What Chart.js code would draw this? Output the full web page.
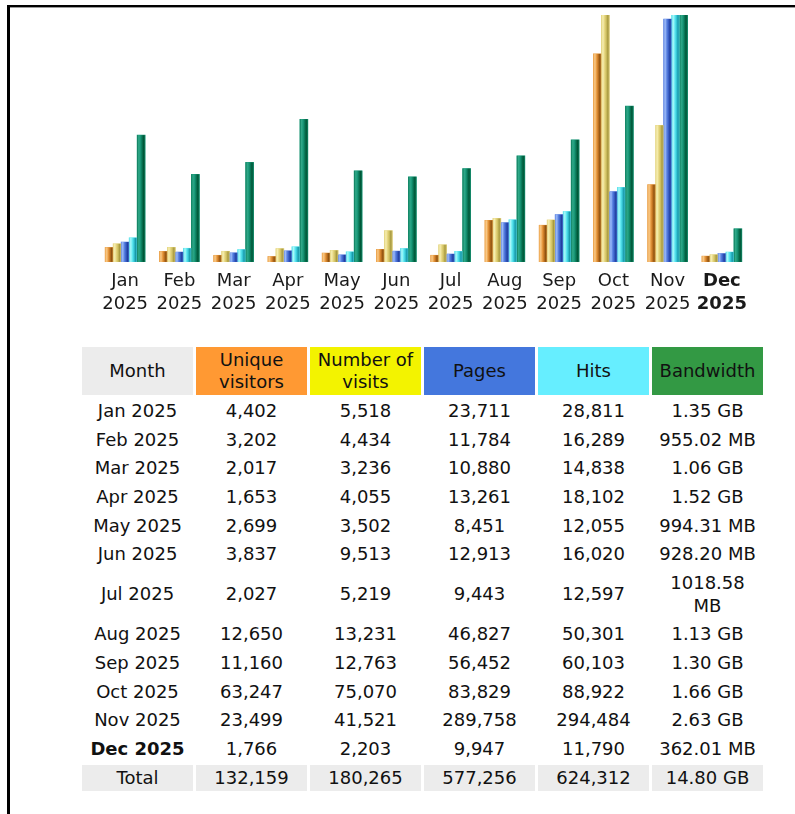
<!DOCTYPE html>
<html>
<head>
<meta charset="utf-8">
<title>Monthly history</title>
<script src="https://cdn.jsdelivr.net/npm/chart.js@4/dist/chart.umd.min.js"></script>
<style>
  html, body { margin: 0; padding: 0; background: #fff; }
  body { width: 795px; height: 814px; position: relative; overflow: hidden; font-family: "DejaVu Sans", Verdana, sans-serif; }
  .frame { position: absolute; left: 7px; top: 5px; width: 800px; height: 820px; border-left: 3px solid #000; border-top: 2px solid #000; box-shadow: inset 0 1px 0 #9a9a9a; }
  #chartBox { position: absolute; left: 0; top: 0; width: 795px; height: 330px; }
  table.stats { position: absolute; left: 79px; top: 344px; border-collapse: separate; border-spacing: 3px; font-size: 18px; color: #111; }
  table.stats td, table.stats th { width: 111px; text-align: center; padding: 1.62px 3px; line-height: 22.5px; font-weight: normal; box-sizing: border-box; }
  table.stats th { padding: 1.6px 3px; }
  .bold { font-weight: bold !important; }
  .tot td { background: #ececec; }
</style>
</head>
<body>
<div class="frame"></div>
<div id="chartBox"><canvas id="monthChart" width="795" height="330"></canvas></div>
<table class="stats" id="stats"></table>
<script>
document.addEventListener('DOMContentLoaded', function() {
    const months = ['Jan', 'Feb', 'Mar', 'Apr', 'May', 'Jun', 'Jul', 'Aug', 'Sep', 'Oct', 'Nov', 'Dec'];
    const year = '2025';
    const visitors = [4402, 3202, 2017, 1653, 2699, 3837, 2027, 12650, 11160, 63247, 23499, 1766];
    const visits = [5518, 4434, 3236, 4055, 3502, 9513, 5219, 13231, 12763, 75070, 41521, 2203];
    const pages = [23711, 11784, 10880, 13261, 8451, 12913, 9443, 46827, 56452, 83829, 289758, 9947];
    const hits = [28811, 16289, 14838, 18102, 12055, 16020, 12597, 50301, 60103, 88922, 294484, 11790];
    const bandwidth = ['1.35 GB', '955.02 MB', '1.06 GB', '1.52 GB', '994.31 MB', '928.20 MB', '1018.58 MB', '1.13 GB', '1.30 GB', '1.66 GB', '2.63 GB', '362.01 MB'];
    const bandwidthTotal = '14.80 GB';
    const currentMonth = 11;

    // bandwidth strings -> MB for the bar heights
    const bandwidthMB = bandwidth.map(s => {
        const [v, unit] = s.split(' ');
        return unit === 'GB' ? parseFloat(v) * 1024 : parseFloat(v);
    });

    const fmt = n => n.toLocaleString('en-US');
    const sum = a => a.reduce((s, v) => s + v, 0);

    // shaded "cylinder" look of the bars
    const barShade = {
        id: 'barShade',
        afterDatasetsDraw(chart) {
            const ctx = chart.ctx;
            chart.data.datasets.forEach((ds, i) => {
                const meta = chart.getDatasetMeta(i);
                meta.data.forEach(bar => {
                    const { x, y, base, width } = bar.getProps(['x', 'y', 'base', 'width'], true);
                    const left = x - width / 2;
                    const g = ctx.createLinearGradient(left, 0, left + width, 0);
                    ds.shade.forEach((c, k) => g.addColorStop(k / (ds.shade.length - 1), c));
                    ctx.fillStyle = g;
                    ctx.fillRect(left, y, width, base - y);
                });
            });
        }
    };

    const hidden = max => ({ display: false, min: 0, max: max });

    new Chart(document.getElementById('monthChart'), {
        type: 'bar',
        data: {
            labels: months.map(m => [m, year]),
            datasets: [
                { label: 'Unique visitors', data: visitors, yAxisID: 'yv', backgroundColor: '#e69a40',
                  shade: ['#f0ac58', '#f8c886', '#e99c42', '#c47422', '#8f5310', '#c88838'] },
                { label: 'Number of visits', data: visits, yAxisID: 'yv', backgroundColor: '#e4d47c',
                  shade: ['#e6d88a', '#f6eeb0', '#e6d680', '#cfc062', '#a89a40', '#cfc070'] },
                { label: 'Pages', data: pages, yAxisID: 'yh', backgroundColor: '#5a80e0',
                  shade: ['#6a90e8', '#9cbaf8', '#5c84e2', '#3a60c8', '#203f9e', '#4a70d0'] },
                { label: 'Hits', data: hits, yAxisID: 'yh', backgroundColor: '#60e8f0',
                  shade: ['#5cdce6', '#aaf8fa', '#62eaf2', '#38c8d8', '#1898a8', '#48c8d8'] },
                { label: 'Bandwidth', data: bandwidthMB, yAxisID: 'yk', backgroundColor: '#189878',
                  shade: ['#0c7a5a', '#30a888', '#1a9a7a', '#0a7858', '#005838', '#0e7c5c'] }
            ]
        },
        options: {
            responsive: false,
            animation: false,
            events: [],
            layout: { padding: { left: 98, right: 46, top: 15, bottom: 6 } },
            datasets: { bar: { barThickness: 8, borderWidth: 0 } },
            plugins: { legend: { display: false }, tooltip: { enabled: false } },
            scales: {
                x: {
                    grid: { display: false, drawTicks: false },
                    border: { display: false },
                    ticks: {
                        padding: 8,
                        color: '#1a1a1a',
                        autoSkip: false,
                        maxRotation: 0,
                        font: c => ({ family: 'DejaVu Sans', size: 18, lineHeight: 1.28,
                                      weight: c.index === currentMonth ? 'bold' : 'normal' })
                    }
                },
                yv: hidden(Math.max(...visitors, ...visits)),
                yh: hidden(Math.max(...pages, ...hits)),
                yk: hidden(Math.max(...bandwidthMB))
            }
        },
        plugins: [barShade]
    });

    // table under the chart
    const table = document.getElementById('stats');
    let html = `
        <tr>
            <th style="background:#ececec;">Month</th>
            <th style="background:#ff9933;">Unique visitors</th>
            <th style="background:#f3f300;">Number of visits</th>
            <th style="background:#4477dd;">Pages</th>
            <th style="background:#66eeff;">Hits</th>
            <th style="background:#339944;">Bandwidth</th>
        </tr>`;
    html += months.map((m, i) => `
        <tr>
            <td class="${i === currentMonth ? 'bold' : ''}">${m} ${year}</td>
            <td>${fmt(visitors[i])}</td>
            <td>${fmt(visits[i])}</td>
            <td>${fmt(pages[i])}</td>
            <td>${fmt(hits[i])}</td>
            <td>${bandwidth[i]}</td>
        </tr>`).join('');
    html += `
        <tr class="tot">
            <td>Total</td>
            <td>${fmt(sum(visitors))}</td>
            <td>${fmt(sum(visits))}</td>
            <td>${fmt(sum(pages))}</td>
            <td>${fmt(sum(hits))}</td>
            <td>${bandwidthTotal}</td>
        </tr>`;
    table.innerHTML = html;
});
</script>
</body>
</html>
